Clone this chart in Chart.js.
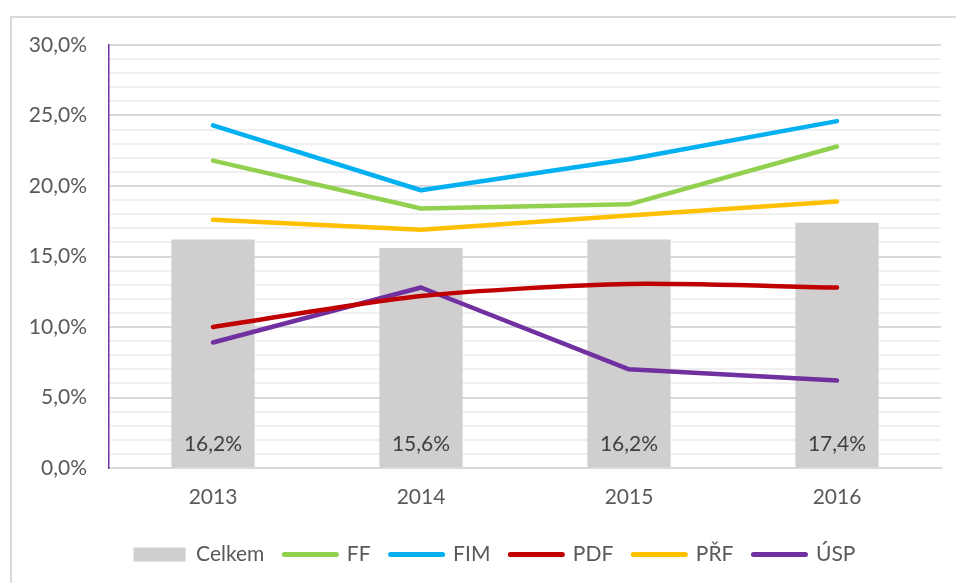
<!DOCTYPE html>
<html>
<head>
<meta charset="utf-8">
<script src="https://cdn.jsdelivr.net/npm/chart.js@4.4.1/dist/chart.umd.min.js"></script>
<style>
  html,body{margin:0;padding:0;background:#fff;overflow:hidden;}
  #wrap{position:absolute;left:0;top:0;width:956px;height:583px;}
  #frame{position:absolute;left:10px;top:16px;width:980px;height:600px;border:2px solid #d9d9d9;box-sizing:border-box;}
  canvas{position:absolute;left:0;top:0;}
</style>
</head>
<body>
<div id="wrap">
  <div id="frame"></div>
  <canvas id="c" width="956" height="583"></canvas>
</div>
<script>
const years = ['2013', '2014', '2015', '2016'];
const celkem = [16.2, 15.6, 16.2, 17.4];
const ff  = [21.8, 18.4, 18.7, 22.8];
const fim = [24.3, 19.7, 21.9, 24.6];
const pdf = [10.0, 12.2, 13.05, 12.8];
const prf = [17.6, 16.9, 17.9, 18.9];
const usp = [8.9, 12.8, 7.0, 6.2];
const yTicks = [0, 5, 10, 15, 20, 25, 30];

const fmt = v => v.toFixed(1).replace('.', ',') + '%';
const FONT = 'Lato, "Liberation Sans", sans-serif';
const TXT = '#595959';
const FS = 21;

function lineDs(label, data, color, tension) {
  return {
    type: 'line', label, data, borderColor: color, backgroundColor: color,
    borderWidth: 4.5, pointRadius: 0, tension: tension || 0, order: 0,
    borderCapStyle: 'round', borderJoinStyle: 'round'
  };
}

const barLabels = {
  id: 'barLabels',
  afterDatasetsDraw(chart) {
    const meta = chart.getDatasetMeta(0);
    const ctx = chart.ctx;
    ctx.save();
    ctx.font = FS + 'px ' + FONT;
    ctx.fillStyle = '#404040';
    ctx.textAlign = 'center';
    ctx.textBaseline = 'middle';
    meta.data.forEach((bar, i) => {
      ctx.fillText(fmt(celkem[i]), bar.x, chart.scales.y.getPixelForValue(0) - 24);
    });
    ctx.restore();
  }
};

const legendShift = {
  id: 'legendShift',
  afterLayout(chart) {
    if (chart.legend) { chart.legend.left += 24; chart.legend.right += 24; }
  }
};

new Chart(document.getElementById('c'), {
  data: {
    labels: years,
    datasets: [
      { type: 'bar', label: 'Celkem', data: celkem, backgroundColor: '#d0cece',
        categoryPercentage: 1, barPercentage: 0.4, order: 1 },
      lineDs('FF', ff, '#92d050'),
      lineDs('FIM', fim, '#00b0f0'),
      lineDs('PDF', pdf, '#c00000', 0.25),
      lineDs('PŘF', prf, '#ffc000'),
      lineDs('ÚSP', usp, '#7030a0')
    ]
  },
  options: {
    responsive: false,
    animation: false,
    layout: { padding: { left: 0, right: 15, top: 45, bottom: 8 } },
    plugins: {
      tooltip: { enabled: false },
      legend: {
        position: 'bottom',
        labels: {
          usePointStyle: true,
          pointStyleWidth: 52,
          boxHeight: 14,
          padding: 20,
          color: TXT,
          font: { family: FONT, size: FS },
          generateLabels(chart) {
            return chart.data.datasets.map((ds, i) => ({
              text: ds.label,
              fillStyle: ds.backgroundColor,
              strokeStyle: ds.type === 'bar' ? ds.backgroundColor : ds.borderColor,
              lineWidth: ds.type === 'bar' ? 0 : 5,
              lineCap: 'round',
              pointStyle: ds.type === 'bar' ? 'rect' : 'line',
              fontColor: TXT,
              hidden: false,
              datasetIndex: i
            }));
          }
        }
      }
    },
    scales: {
      x: {
        grid: { display: false, drawTicks: false },
        border: { color: '#d9d9d9', width: 2 },
        ticks: { color: TXT, font: { family: FONT, size: FS }, padding: 17 },
        afterFit(s) { s.height = 56; }
      },
      y: {
        min: 0, max: 30,
        afterBuildTicks(s) {
          const t = [];
          for (let v = 0; v <= 30; v++) t.push({ value: v });
          s.ticks = t;
        },
        grid: {
          drawTicks: false,
          color: c => (c.tick && yTicks.includes(c.tick.value)) ? '#d9d9d9' : '#f0f0f0',
          lineWidth: 2
        },
        border: { color: '#7030a0', width: 1.5 },
        ticks: {
          color: TXT, font: { family: FONT, size: FS }, padding: 22,
          autoSkip: false,
          callback: v => yTicks.includes(v) ? fmt(v) : ''
        },
        afterFit(s) { s.width = 109; }
      }
    }
  },
  plugins: [barLabels, legendShift]
});
</script>
</body>
</html>
